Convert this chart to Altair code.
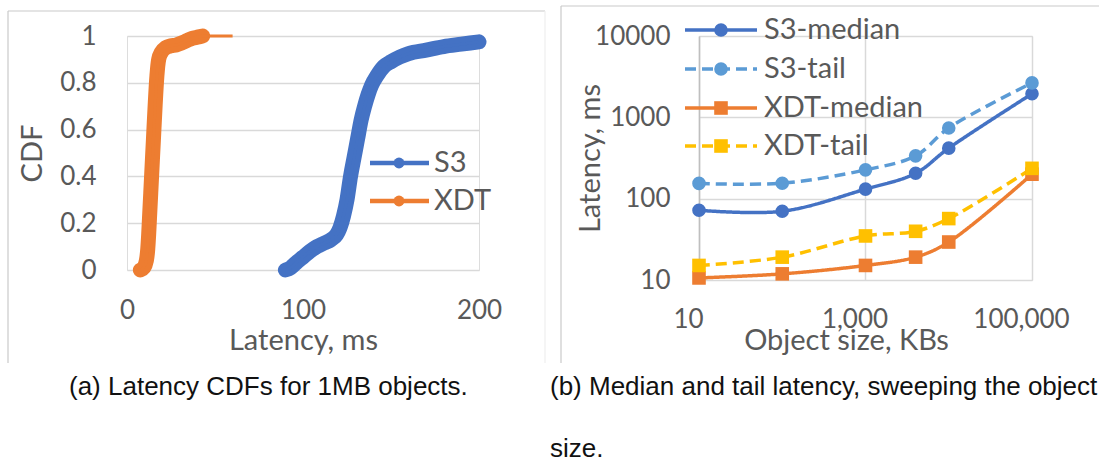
import altair as alt
import pandas as pd

# ---------------- data ----------------
# (a) latency CDFs for 1MB objects
s3_latency_ms = [90, 93, 96, 100, 104, 108, 112, 116, 119, 121, 123, 125, 127, 129,
                 131, 133, 135, 137, 139, 142, 146, 150, 155, 160, 170, 180, 190, 200]
s3_cdf = [0, 0.01, 0.03, 0.055, 0.08, 0.10, 0.115, 0.13, 0.15, 0.18, 0.23, 0.30, 0.40, 0.48,
          0.56, 0.64, 0.70, 0.75, 0.79, 0.83, 0.87, 0.89, 0.91, 0.925, 0.94, 0.955, 0.965, 0.975]
xdt_latency_ms = [7.6, 9.5, 11, 11.8, 12.3, 13, 14, 15, 16, 17, 18, 19.5, 22, 25, 28,
                  31, 34, 37, 40, 43, 60]
xdt_cdf = [0, 0.01, 0.04, 0.09, 0.15, 0.255, 0.405, 0.555, 0.705, 0.83, 0.9, 0.93, 0.95,
           0.958, 0.962, 0.97, 0.98, 0.99, 0.995, 1.0, 1.0]
cdf_series = ["S3", "XDT"]
cdf_colors = ["#4472C4", "#ED7D31"]
cdf_x_ticks = [0, 100, 200]
cdf_y_ticks = [0, 0.2, 0.4, 0.6, 0.8, 1]

# (b) median and tail latency while sweeping the object size
object_size_kb = [10, 100, 1000, 4000, 10000, 100000]
s3_median_ms = [72, 70, 131, 205, 418, 1950]
s3_tail_ms = [154, 155, 226, 336, 740, 2650]
xdt_median_ms = [10.6, 11.9, 15.1, 19.1, 29.3, 200]
xdt_tail_ms = [15.1, 19.1, 34.8, 39.7, 56.9, 236]
size_series = ["S3-median", "S3-tail", "XDT-median", "XDT-tail"]
size_colors = ["#4472C4", "#5B9BD5", "#ED7D31", "#FFC000"]
size_shapes = ["circle", "circle", "square", "square"]
size_dashes = [[1, 0], [11, 6], [1, 0], [11, 6]]
size_x_ticks = [10, 1000, 100000]
size_y_ticks = [10, 100, 1000, 10000]

captions = {
    "a": "(a) Latency CDFs for 1MB objects.",
    "b": ["(b) Median and tail latency, sweeping the object", "size."],
}

# ---------------- style ----------------
FONT = "Lato"
CAPTION_FONT = "Liberation Sans"
FS_TICK = 26
FS_TEXT = 29
GREY_TEXT = "#595959"
GRID = "#D9D9D9"
FRAME = "#CACACA"

A_W, A_H = 352, 234
B_W, B_H = 333, 244


def one_row():
    return pd.DataFrame({"k": [0]})


def frame_rule(x, x2, y, y2, color=FRAME):
    return alt.Chart(one_row()).mark_rule(color=color, strokeWidth=1.2).encode(
        x=alt.value(x), x2=alt.value(x2), y=alt.value(y), y2=alt.value(y2)
    )


def axis_common(**kw):
    base = dict(
        labelFont=FONT, labelFontSize=FS_TICK, labelColor=GREY_TEXT, labelFlush=False,
        titleFont=FONT, titleFontSize=FS_TEXT, titleColor=GREY_TEXT, titleFontWeight="normal",
        ticks=False, tickSize=0,
    )
    base.update(kw)
    return alt.Axis(**base)


# ---------------- panel (a) ----------------
cdf_df = pd.concat([
    pd.DataFrame({"ms": s3_latency_ms, "cdf": s3_cdf, "series": cdf_series[0]}),
    pd.DataFrame({"ms": xdt_latency_ms, "cdf": xdt_cdf, "series": cdf_series[1]}),
])

a_x = alt.X("ms:Q", scale=alt.Scale(domain=[0, 200], nice=False, zero=False),
            axis=axis_common(values=cdf_x_ticks, grid=False, domain=False, labelPadding=27,
                             title="Latency, ms", titleY=79, titleBaseline="alphabetic"))
a_y = alt.Y("cdf:Q", scale=alt.Scale(domain=[0, 1], nice=False),
            axis=axis_common(values=cdf_y_ticks, labelExpr="'' + datum.value",
                             grid=True, gridColor=GRID, gridWidth=1.5, domain=False,
                             labelPadding=31, title="CDF", titleX=-95, titleY=117,
                             titleAngle=270, titleBaseline="middle", titleAlign="center"))
a_color = alt.Color("series:N", scale=alt.Scale(domain=cdf_series, range=cdf_colors), legend=None)

# dense markers merge into a thick band; the last XDT sample carries no marker
a_band = alt.Chart(cdf_df).transform_filter(
    "datum.series == 'S3' || datum.ms < 50"
).mark_line(strokeWidth=15, strokeCap="round", strokeJoin="round", interpolate="monotone").encode(
    x=a_x, y=a_y, color=a_color, detail="series:N")
a_line = alt.Chart(cdf_df).mark_line(strokeWidth=3, interpolate="monotone").encode(
    x=a_x, y=a_y, color=a_color, detail="series:N")

a_layers = [
    frame_rule(-119, 418, -25, -25),
    frame_rule(-119, -119, -25, 327),
    frame_rule(418, 418, -25, 327, "#EFEFEF"),
    a_band, a_line,
]
a_legend_y = [127, 165]
for name, color, ly in zip(cdf_series, cdf_colors, a_legend_y):
    a_layers.append(alt.Chart(one_row()).mark_rule(color=color, strokeWidth=4.5).encode(
        x=alt.value(243), x2=alt.value(302), y=alt.value(ly), y2=alt.value(ly)))
    a_layers.append(alt.Chart(one_row()).mark_point(shape="circle", filled=True, opacity=1,
                                                    size=120, color=color).encode(
        x=alt.value(272), y=alt.value(ly)))
    a_layers.append(alt.Chart(one_row()).mark_text(align="left", baseline="middle", font=FONT,
                                                   fontSize=FS_TEXT, color=GREY_TEXT).encode(
        x=alt.value(307), y=alt.value(ly), text=alt.value(name)))
a_layers.append(alt.Chart(one_row()).mark_text(align="left", baseline="middle", font=CAPTION_FONT,
                                               fontSize=26, color="#111111").encode(
    x=alt.value(-58), y=alt.value(351), text=alt.value(captions["a"])))

panel_a = alt.layer(*a_layers).properties(width=A_W, height=A_H)

# ---------------- panel (b) ----------------
size_df = pd.concat([
    pd.DataFrame({"size": object_size_kb, "latency": vals, "series": name})
    for name, vals in zip(size_series, [s3_median_ms, s3_tail_ms, xdt_median_ms, xdt_tail_ms])
])

b_x = alt.X("size:Q", scale=alt.Scale(type="log", domain=[10, 100000], nice=False),
            axis=axis_common(values=size_x_ticks, format=",", grid=True, gridColor=GRID,
                             gridWidth=1.5, domain=False, labelPadding=26, labelOffset=-11,
                             title="Object size, KBs", titleX=147, titleY=69,
                             titleBaseline="alphabetic"))
b_y = alt.Y("latency:Q", scale=alt.Scale(type="log", domain=[10, 10000], nice=False),
            axis=axis_common(values=size_y_ticks, format="d", grid=True, gridColor=GRID,
                             gridWidth=1.5, domain=True, domainColor="#BFBFBF", domainWidth=1.5,
                             labelPadding=29, title="Latency, ms", titleX=-109, titleY=122,
                             titleAngle=270, titleBaseline="middle", titleAlign="center"))
b_color = alt.Color("series:N", scale=alt.Scale(domain=size_series, range=size_colors), legend=None)

b_lines = alt.Chart(size_df).mark_line(strokeWidth=3.5, interpolate="catmull-rom").encode(
    x=b_x, y=b_y, color=b_color,
    strokeDash=alt.StrokeDash("series:N", scale=alt.Scale(domain=size_series, range=size_dashes),
                              legend=None))
b_points = alt.Chart(size_df).mark_point(filled=True, opacity=1, size=185).encode(
    x=b_x, y=b_y, color=b_color,
    shape=alt.Shape("series:N", scale=alt.Scale(domain=size_series, range=size_shapes), legend=None))

b_layers = [
    frame_rule(-138, 400, -30, -30),
    frame_rule(-138, -138, -30, 327),
    b_lines, b_points,
]
b_legend_y = [-6, 33, 72, 110]
for name, color, shape, dash, ly in zip(size_series, size_colors, size_shapes, size_dashes, b_legend_y):
    b_layers.append(alt.Chart(one_row()).mark_rule(color=color, strokeWidth=3.5, strokeDash=dash).encode(
        x=alt.value(-14), x2=alt.value(58), y=alt.value(ly), y2=alt.value(ly)))
    b_layers.append(alt.Chart(one_row()).mark_point(shape=shape, filled=True, opacity=1,
                                                    size=185, color=color).encode(
        x=alt.value(22), y=alt.value(ly)))
    b_layers.append(alt.Chart(one_row()).mark_text(align="left", baseline="middle", font=FONT,
                                                   fontSize=FS_TEXT, color=GREY_TEXT).encode(
        x=alt.value(65), y=alt.value(ly), text=alt.value(name)))
b_layers.append(alt.Chart(one_row()).mark_text(align="left", baseline="middle", font=CAPTION_FONT,
                                               fontSize=26, color="#111111", lineHeight=62).encode(
    x=alt.value(-149), y=alt.value(351), text=alt.value(captions["b"])))

panel_b = alt.layer(*b_layers).properties(width=B_W, height=B_H)

chart = alt.hconcat(panel_a, panel_b, spacing=220, bounds="flush").resolve_scale(
    color="independent", shape="independent", strokeDash="independent"
).properties(
    padding={"left": 6, "top": 4, "right": 0, "bottom": 0}
).configure_view(stroke=None).configure(background="white")

chart.save("out.html", embed_options={"renderer": "svg", "actions": False})
